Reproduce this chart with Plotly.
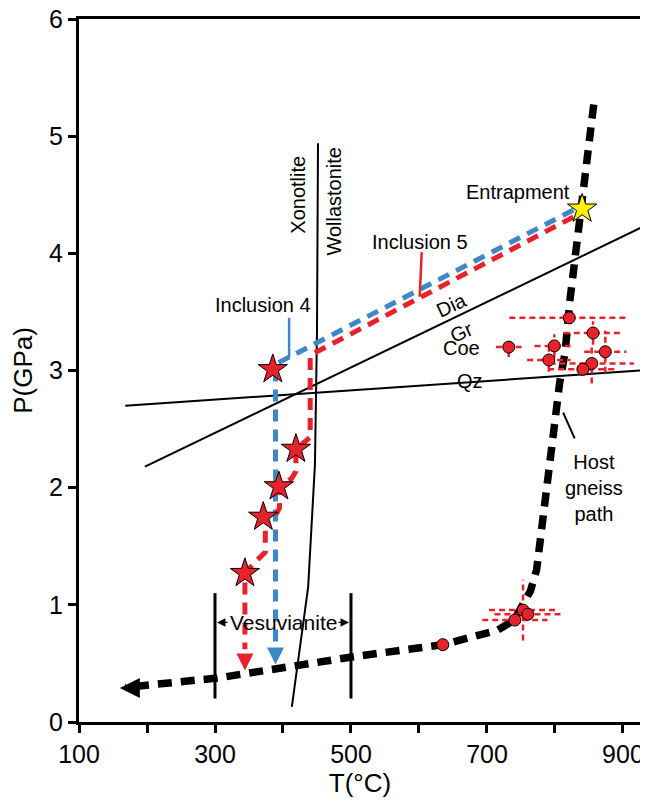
import plotly.graph_objects as go
import numpy as np

RED = "#E8222A"
BLUE = "#3F87C7"
YELLOW = "#FFF200"
FONT = "Liberation Sans"

# ---- axis ticks ----
x_tick_vals = [100, 200, 300, 400, 500, 600, 700, 800, 900]
x_tick_text = ["100", "", "300", "", "500", "", "700", "", "900"]
y_tick_vals = [0, 1, 2, 3, 4, 5, 6]

# ---- host gneiss P-T path (T degC, P GPa) ----
host_T = [857, 847, 840, 835, 822, 815, 807, 803, 796, 789, 783, 773, 764, 752, 740, 716, 670, 635, 501, 303, 168]
host_P = [5.27, 4.75, 4.38, 4.22, 3.60, 3.16, 2.90, 2.70, 2.40, 2.10, 1.81, 1.30, 1.12, 0.98, 0.87, 0.785, 0.72, 0.66, 0.555, 0.375, 0.295]
host_tip_T = [160]
host_tip_P = [0.29]

# ---- reaction lines ----
xon_T = [451.5, 450, 447, 441, 437, 413]
xon_P = [4.94, 3.34, 2.2, 1.6, 1.15, 0.13]
diagr_T = [197, 927]
diagr_P = [2.18, 4.22]
coeqz_T = [168, 927]
coeqz_P = [2.70, 3.00]

# ---- vesuvianite stability bars ----
ves_T = [300, 500]
ves_Pmin = [0.20, 0.20]
ves_Pmax = [1.10, 1.10]

# ---- inclusion paths ----
incl4_T = [827, 391, 389, 389]
incl4_P = [4.37, 3.06, 3.00, 0.62]
incl4_tip = (389, 0.49)

incl5_T = [827, 440, 440, 419, 419, 413, 394, 395, 389, 371, 374, 374, 360, 344, 344]
incl5_P = [4.31, 3.13, 2.43, 2.33, 2.14, 2.08, 2.01, 1.83, 1.76, 1.75, 1.64, 1.45, 1.37, 1.27, 0.62]
incl5_tip = (344, 0.44)

stars_T = [385, 419, 394, 371, 344]
stars_P = [3.01, 2.33, 2.01, 1.75, 1.27]

entrap_T = [840]
entrap_P = [4.38]

# ---- host gneiss P-T estimates with uncertainties ----
pt_T = [821, 856, 732, 799, 874, 791, 854, 841, 753, 760, 741, 635]
pt_P = [3.45, 3.32, 3.20, 3.21, 3.16, 3.09, 3.06, 3.01, 0.955, 0.92, 0.87, 0.66]
pt_Terr = [88, 43, 19, 29, 31, 32, 62, 51, 50, 49, 48, 0]
pt_Perr = [0, 0.10, 0.085, 0.10, 0.18, 0.10, 0.17, 0, 0.26, 0, 0, 0]

fig = go.Figure()

def line(x, y, color="black", width=2, dash=None):
    fig.add_trace(go.Scatter(x=x, y=y, mode="lines", hoverinfo="skip",
                             line=dict(color=color, width=width, dash=dash)))

# reaction lines
line(xon_T, xon_P, width=2)
line(diagr_T, diagr_P, width=2)
line(coeqz_T, coeqz_P, width=2)

# vesuvianite bars
for t, a, b in zip(ves_T, ves_Pmin, ves_Pmax):
    line([t, t], [a, b], width=3)

# host path
line(host_T, host_P, width=7.5, dash="14px,9px")
fig.add_trace(go.Scatter(x=host_tip_T, y=host_tip_P, mode="markers", hoverinfo="skip",
                         marker=dict(symbol="arrow-left", size=20, color="black",
                                     line=dict(width=0))))

# error bars (dashed)
ex, ey = [], []
for t, p, te, pe in zip(pt_T, pt_P, pt_Terr, pt_Perr):
    if te > 0:
        ex += [t - te, t + te, None]
        ey += [p, p, None]
    if pe > 0:
        ex += [t, t, None]
        ey += [p - pe, p + pe, None]
line(ex, ey, color=RED, width=2.5, dash="6px,4px")

fig.add_trace(go.Scatter(x=pt_T, y=pt_P, mode="markers", hoverinfo="skip",
                         marker=dict(symbol="circle", size=12, color=RED,
                                     line=dict(color="black", width=1))))

# inclusion paths
line(incl4_T, incl4_P, color=BLUE, width=5, dash="12px,8px")
line(incl5_T, incl5_P, color=RED, width=5, dash="12px,8px")
fig.add_trace(go.Scatter(x=[incl4_tip[0]], y=[incl4_tip[1]], mode="markers", hoverinfo="skip",
                         marker=dict(symbol="arrow-down", size=17, color=BLUE, line=dict(width=0))))
fig.add_trace(go.Scatter(x=[incl5_tip[0]], y=[incl5_tip[1]], mode="markers", hoverinfo="skip",
                         marker=dict(symbol="arrow-down", size=17, color=RED, line=dict(width=0))))

# pointer lines
line([409, 409], [3.45, 3.11], color=BLUE, width=2.5)
line([604, 601], [4.01, 3.63], color=RED, width=2.5)
line([812, 829], [2.64, 2.42], color="black", width=2)

# stars
fig.add_trace(go.Scatter(x=stars_T, y=stars_P, mode="markers", hoverinfo="skip",
                         marker=dict(symbol="star", size=22, color=RED,
                                     line=dict(color="black", width=1))))
fig.add_trace(go.Scatter(x=entrap_T, y=entrap_P, mode="markers", hoverinfo="skip",
                         marker=dict(symbol="star", size=22, color=YELLOW,
                                     line=dict(color="black", width=1))))

def label(text, x, y, angle=0, xanchor="center", size=20):
    fig.add_annotation(x=x, y=y, text=text, showarrow=False, textangle=angle,
                       xanchor=xanchor, yanchor="middle",
                       font=dict(family=FONT, size=size, color="black"))

label("Entrapment", 825, 4.52, xanchor="right")
label("Inclusion 5", 601, 4.10)
label("Inclusion 4", 370, 3.56)
label("Xonotlite", 422, 4.50, angle=-90)
label("Wollastonite", 475, 4.45, angle=-90)
label("Dia", 648, 3.56, angle=-25)
label("Gr", 663, 3.33, angle=-25)
label("Coe", 663, 3.19)
label("Qz", 675, 2.91)
label("Host<br>gneiss<br>path", 812, 2.0, xanchor="left")
label("Vesuvianite", 401, 0.85, size=21)

for t, ax in zip(ves_T, [14, -14]):
    fig.add_annotation(x=t, y=0.85, ax=ax, ay=0, text="", showarrow=True,
                       arrowhead=2, arrowsize=1.3, arrowwidth=1.3, arrowcolor="black",
                       standoff=2)

axis_common = dict(showgrid=False, zeroline=False, showline=True, mirror=True,
                   linecolor="black", linewidth=3, ticks="outside", ticklen=8,
                   tickwidth=3, tickcolor="black", automargin=False,
                   ticklabeloverflow="allow",
                   tickfont=dict(family=FONT, size=25, color="black"))

# page body adds an 8px offset, so the figure is sized/margined to compensate
fig.update_layout(
    width=640, height=798,
    margin=dict(l=71, r=7, t=11, b=84),
    paper_bgcolor="white", plot_bgcolor="white",
    showlegend=False,
    xaxis=dict(range=[100, 926.5], tickvals=x_tick_vals, ticktext=x_tick_text,
               title=dict(text="T(°C)", standoff=4,
                          font=dict(family=FONT, size=26, color="black")),
               **axis_common),
    yaxis=dict(range=[0, 6], tickvals=y_tick_vals,
               title=dict(text="P(GPa)", standoff=10,
                          font=dict(family=FONT, size=26, color="black")),
               **axis_common),
)

fig.write_html("out.html")
